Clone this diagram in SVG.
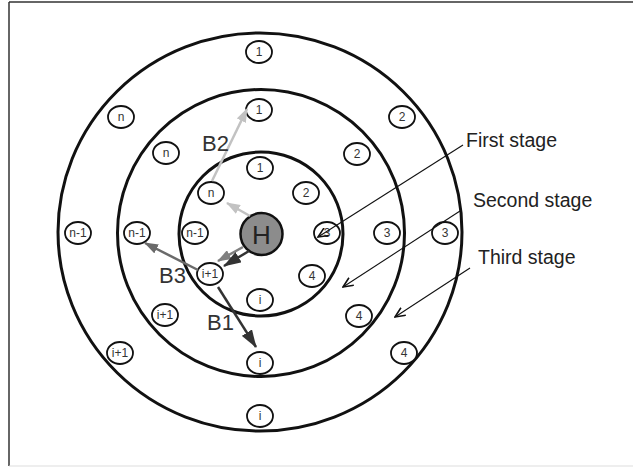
<svg xmlns="http://www.w3.org/2000/svg" width="633" height="467" viewBox="0 0 633 467">
  <style>
    .ring { fill: none; stroke: #111; stroke-width: 3; }
    .node ellipse { fill: #fff; stroke: #111; stroke-width: 1.8; }
    .node text { font-family: "Liberation Sans", Arial, sans-serif; font-size: 12px; fill: #333; text-anchor: middle; }
    .big { font-family: "Liberation Sans", Arial, sans-serif; font-size: 22px; fill: #333; }
    .stage { font-family: "Liberation Sans", Arial, sans-serif; font-size: 19.5px; fill: #222; }
    .leader { stroke: #111; stroke-width: 1.1; fill: none; marker-end: url(#open); }
  </style>
  <defs>
    <marker id="open" markerUnits="userSpaceOnUse" viewBox="0 0 12 10" markerWidth="12" markerHeight="10" refX="11" refY="5" orient="auto">
      <path d="M1,0.5 L11,5 L1,9.5" fill="none" stroke="#111" stroke-width="1.6"/>
    </marker>
    <marker id="hLight" markerUnits="userSpaceOnUse" viewBox="0 0 14 10" markerWidth="14" markerHeight="10" refX="13" refY="5" orient="auto">
      <path d="M0,0 L14,5 L0,10 z" fill="#c2c2c2"/>
    </marker>
    <marker id="hMid" markerUnits="userSpaceOnUse" viewBox="0 0 14 10" markerWidth="14" markerHeight="10" refX="13" refY="5" orient="auto">
      <path d="M0,0 L14,5 L0,10 z" fill="#6a6a6a"/>
    </marker>
    <marker id="hGrey" markerUnits="userSpaceOnUse" viewBox="0 0 14 10" markerWidth="14" markerHeight="10" refX="13" refY="5" orient="auto">
      <path d="M0,0 L14,5 L0,10 z" fill="#808080"/>
    </marker>
    <marker id="hDark" markerUnits="userSpaceOnUse" viewBox="0 0 18 12" markerWidth="18" markerHeight="12" refX="17" refY="6" orient="auto">
      <path d="M0,0 L18,6 L0,12 z" fill="#333"/>
    </marker>
  </defs>

  <!-- frame -->
  <line x1="9" y1="2" x2="633" y2="2" stroke="#333" stroke-width="1.5"/>
  <line x1="9" y1="2" x2="9" y2="466" stroke="#333" stroke-width="1.5"/>
  <line x1="9" y1="466" x2="633" y2="466" stroke="#ddd" stroke-width="1"/>

  <!-- stage rings -->
  <g id="rings">
    <ellipse class="ring" cx="260" cy="232" rx="202" ry="199"/>
    <circle class="ring" cx="261" cy="233" r="143.5"/>
    <circle class="ring" cx="261" cy="234" r="82"/>
  </g>

  <!-- hub -->
  <g id="hub">
    <circle cx="261.5" cy="234" r="21" fill="#8c8c8c" stroke="#111" stroke-width="2.5"/>
    <text x="261.5" y="243.5" text-anchor="middle" font-family="Liberation Sans, Arial, sans-serif" font-size="26" fill="#222">H</text>
  </g>

  <!-- first stage nodes -->
  <g id="s1-1" class="node"><ellipse cx="260" cy="168" rx="13" ry="11"/><text x="260" y="172">1</text></g>
  <g id="s1-2" class="node"><ellipse cx="306" cy="193" rx="13" ry="11"/><text x="306" y="197">2</text></g>
  <g id="s1-3" class="node"><ellipse cx="327" cy="233" rx="13" ry="11"/><text x="327" y="237">3</text></g>
  <g id="s1-4" class="node"><ellipse cx="312" cy="276" rx="13" ry="11"/><text x="312" y="280">4</text></g>
  <g id="s1-i" class="node"><ellipse cx="260" cy="300" rx="13" ry="11"/><text x="260" y="304">i</text></g>
  <g id="s1-i1" class="node"><ellipse cx="210" cy="274" rx="13" ry="11"/><text x="210" y="278">i+1</text></g>
  <g id="s1-n1" class="node"><ellipse cx="195" cy="233" rx="13" ry="11"/><text x="195" y="237">n-1</text></g>
  <g id="s1-n" class="node"><ellipse cx="211" cy="193" rx="13" ry="11"/><text x="211" y="197">n</text></g>

  <!-- second stage nodes -->
  <g id="s2-1" class="node"><ellipse cx="259" cy="110" rx="13" ry="11"/><text x="259" y="114">1</text></g>
  <g id="s2-2" class="node"><ellipse cx="357" cy="154" rx="13" ry="11"/><text x="357" y="158">2</text></g>
  <g id="s2-3" class="node"><ellipse cx="387" cy="233" rx="13" ry="11"/><text x="387" y="237">3</text></g>
  <g id="s2-4" class="node"><ellipse cx="359" cy="316" rx="13" ry="11"/><text x="359" y="320">4</text></g>
  <g id="s2-i" class="node"><ellipse cx="260" cy="363" rx="13" ry="11"/><text x="260" y="367">i</text></g>
  <g id="s2-i1" class="node"><ellipse cx="165" cy="315" rx="13" ry="11"/><text x="165" y="319">i+1</text></g>
  <g id="s2-n1" class="node"><ellipse cx="137" cy="233" rx="13" ry="11"/><text x="137" y="237">n-1</text></g>
  <g id="s2-n" class="node"><ellipse cx="166" cy="153" rx="13" ry="11"/><text x="166" y="157">n</text></g>

  <!-- third stage nodes -->
  <g id="s3-1" class="node"><ellipse cx="259" cy="52" rx="13" ry="11"/><text x="259" y="56">1</text></g>
  <g id="s3-2" class="node"><ellipse cx="402" cy="117" rx="13" ry="11"/><text x="402" y="121">2</text></g>
  <g id="s3-3" class="node"><ellipse cx="445" cy="233" rx="13" ry="11"/><text x="445" y="237">3</text></g>
  <g id="s3-4" class="node"><ellipse cx="404" cy="353" rx="13" ry="11"/><text x="404" y="357">4</text></g>
  <g id="s3-i" class="node"><ellipse cx="260" cy="416" rx="13" ry="11"/><text x="260" y="420">i</text></g>
  <g id="s3-i1" class="node"><ellipse cx="120" cy="353" rx="13" ry="11"/><text x="120" y="357">i+1</text></g>
  <g id="s3-n1" class="node"><ellipse cx="78" cy="233" rx="13" ry="11"/><text x="78" y="237">n-1</text></g>
  <g id="s3-n" class="node"><ellipse cx="121" cy="117" rx="13" ry="11"/><text x="121" y="121">n</text></g>

  <!-- connectors -->
  <g id="connectors">
    <line x1="212" y1="181" x2="247" y2="109" stroke="#c2c2c2" stroke-width="2.5" marker-end="url(#hLight)"/>
    <line x1="250" y1="216" x2="227" y2="203" stroke="#c2c2c2" stroke-width="2.5" marker-end="url(#hLight)"/>
    <line x1="198" y1="270" x2="145" y2="243" stroke="#6a6a6a" stroke-width="2.5" marker-end="url(#hMid)"/>
    <line x1="218" y1="287" x2="256" y2="347" stroke="#333" stroke-width="2.5" marker-end="url(#hDark)"/>
    <line x1="243" y1="247" x2="218" y2="261" stroke="#808080" stroke-width="2.5" marker-end="url(#hGrey)"/>
    <line x1="249" y1="251" x2="224" y2="266" stroke="#333" stroke-width="2.5" marker-end="url(#hDark)"/>

    <line class="leader" x1="463" y1="145" x2="318" y2="237"/>
    <line class="leader" x1="460" y1="211" x2="343" y2="287"/>
    <line class="leader" x1="470" y1="268" x2="395" y2="317"/>
  </g>

  <!-- labels -->
  <text class="big" x="202" y="151">B2</text>
  <text class="big" x="159" y="283">B3</text>
  <text class="big" x="207" y="330">B1</text>
  <text class="stage" x="466" y="147">First stage</text>
  <text class="stage" x="473" y="207">Second stage</text>
  <text class="stage" x="478" y="264">Third stage</text>
</svg>
